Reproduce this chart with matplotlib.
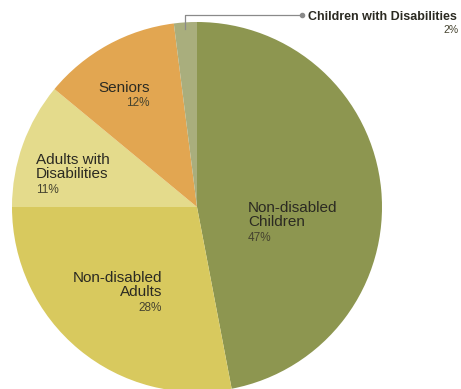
import matplotlib.pyplot as plt

# slices, clockwise from 12 o'clock
labels = ["Non-disabled\nChildren", "Non-disabled\nAdults", "Adults with\nDisabilities",
          "Seniors", "Children with Disabilities"]
shares = [47, 28, 11, 12, 2]
colors = ["#8d9650", "#d8c95e", "#e4db8c", "#e2a651", "#a9ae7d"]

W, H = 461, 389
fig = plt.figure(figsize=(W / 100, H / 100), dpi=100)
ax = fig.add_axes([0, 0, 1, 1])

# y axis points down, so counterclock in data space runs clockwise on screen
ax.pie(shares, colors=colors, startangle=-90, counterclock=True,
       center=(197, 207), radius=185, frame=True,
       wedgeprops=dict(linewidth=0))
ax.set_xlim(0, W)
ax.set_ylim(H, 0)
ax.set_aspect("equal")
ax.axis("off")

font = "Liberation Sans"
txt = "#2b2a22"
pct = "#45432f"

def label(x, y, name, share, ha):
    ax.text(x, y, name, ha=ha, va="top", fontsize=11, color=txt,
            family=font, linespacing=1.0)
    n = name.count("\n") + 1
    ax.text(x, y + 15.5 * n, f"{share}%", ha=ha, va="top", fontsize=8.5,
            color=pct, family=font)

label(248, 201, labels[0], shares[0], "left")
label(162, 271, labels[1], shares[1], "right")
label(36, 153, labels[2], shares[2], "left")
label(150, 81, labels[3], shares[3], "right")

# leader for the small slice
ax.plot([185, 185, 302], [29, 15, 15], color="#8a8a8a", lw=0.9)
ax.plot([302], [15], "o", color="#8a8a8a", ms=3)
ax.text(308, 17, labels[4], ha="left", va="center", fontsize=9, color=txt,
        family=font, fontweight="bold")
ax.text(459, 30, f"{shares[4]}%", ha="right", va="center", fontsize=7.5,
        color=pct, family=font)

fig.savefig("out.png", dpi=100)
